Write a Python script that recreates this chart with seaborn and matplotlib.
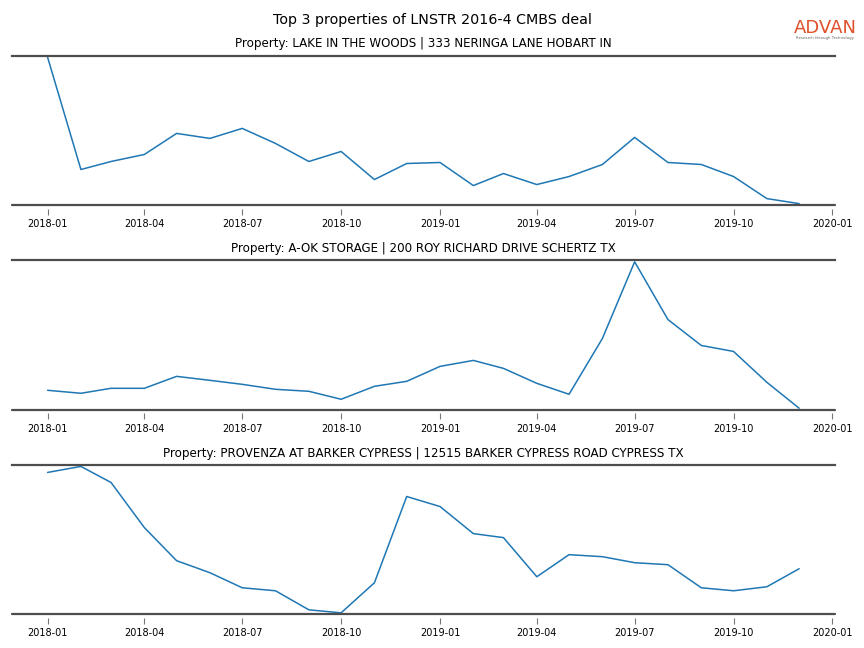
import pandas as pd
import seaborn as sns
import numpy as np
import matplotlib.pyplot as plt
import matplotlib.dates as mdates

# monthly visit index per property (y axis hidden in the original)
months = pd.date_range("2018-01-01", "2019-12-01", freq="MS")

titles = [
    "Property: LAKE IN THE WOODS | 333 NERINGA LANE HOBART IN",
    "Property: A-OK STORAGE | 200 ROY RICHARD DRIVE SCHERTZ TX",
    "Property: PROVENZA AT BARKER CYPRESS | 12515 BARKER CYPRESS ROAD CYPRESS TX",
]

lake_woods = [148, 36, 44, 51, 72, 67, 77, 62, 44, 54, 26, 42,
              43, 20, 32, 21, 29, 41, 68, 43, 41, 29, 7, 2]
aok_storage = [18, 15, 20, 20, 32, 28, 24, 19, 17, 9, 22, 27,
               42, 48, 40, 25, 14, 70, 147, 89, 63, 57, 26, 0]
provenza = [141, 147, 131, 86, 53, 41, 26, 23, 4, 1, 31, 117,
            107, 80, 76, 37, 59, 57, 51, 49, 26, 23, 27, 45]

series = [lake_woods, aok_storage, provenza]

sns.set_style("white")
plt.rcParams['font.family'] = ['DejaVu Sans']
plt.rcParams['text.color'] = 'black'
plt.rcParams['xtick.labelcolor'] = 'black'

fig, axes = plt.subplots(3, 1, figsize=(8.64, 6.48), dpi=100)
fig.subplots_adjust(left=0.014, right=0.966, top=0.914, bottom=0.052, hspace=0.37)

for ax, vals, title in zip(axes, series, titles):
    df = pd.DataFrame({"month": months, "visits": vals})
    sns.lineplot(data=df, x="month", y="visits", ax=ax, color="#1f77b4", linewidth=1.1)
    ax.margins(y=0.01)
    ax.set_title(title, fontsize=8.6, pad=6, color="black")
    ax.set_xlabel("")
    ax.set_ylabel("")
    ax.set_yticks([])
    ax.xaxis.set_major_locator(mdates.MonthLocator(bymonth=(1, 4, 7, 10)))
    ax.xaxis.set_major_formatter(mdates.DateFormatter("%Y-%m"))
    ax.set_xlim(pd.Timestamp("2017-11-29"), pd.Timestamp("2020-01-03"))

    for side in ["left", "right"]:
        ax.spines[side].set_visible(False)
    ax.spines["top"].set_color("#4d4d4d")
    ax.spines["top"].set_linewidth(1.6)
    # ticks sit a little below the line, so push the axis out and redraw the line
    ax.spines["bottom"].set_position(("outward", 7))
    ax.spines["bottom"].set_visible(False)
    ax.axhline(ax.get_ylim()[0], color="#4d4d4d", linewidth=1.6, clip_on=False)
    ax.tick_params(axis="x", direction="in", length=4, width=0.8, color="#777777",
                   labelsize=7, pad=3, bottom=True)

fig.suptitle("Top 3 properties of LNSTR 2016-4 CMBS deal", fontsize=10.3, y=0.969,
             va="center", color="black")

# logo
fig.text(0.955, 0.957, "ADVAN", color="#e0512b", fontsize=13, fontweight="medium",
         ha="center", va="center")
fig.text(0.955, 0.941, "Research through Technology", color="#666666", fontsize=2.8,
         ha="center", va="center")

plt.savefig("out.png", dpi=100)
